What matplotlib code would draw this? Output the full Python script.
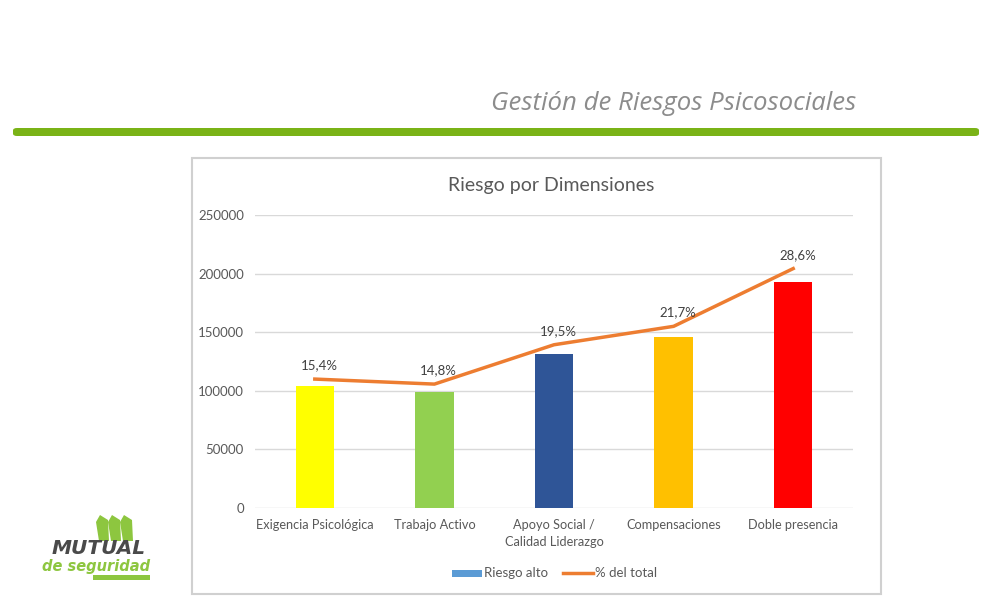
"""
Riesgo por Dimensiones - barras + linea de porcentaje
"""

import matplotlib.pyplot as plt
from matplotlib.patches import Rectangle, FancyBboxPatch, Polygon

# Datos
categorias = ['Exigencia Psicológica', 'Trabajo Activo', 'Apoyo Social /\nCalidad Liderazgo',
              'Compensaciones', 'Doble presencia']
riesgo_alto = [104000, 99000, 131500, 145500, 193000]
pct_total = [0.154, 0.148, 0.195, 0.217, 0.286]
pct_labels = ['15,4%', '14,8%', '19,5%', '21,7%', '28,6%']
bar_colors = ['#FFFF00', '#92D050', '#2F5597', '#FFC000', '#FF0000']
y_ticks = [0, 50000, 100000, 150000, 200000, 250000]

W, H = 992, 610
fig = plt.figure(figsize=(W / 100, H / 100), dpi=100)
fig.patch.set_facecolor('white')


def fx(px):
    return px / W


def fy(py):
    return 1 - py / H


# Encabezado
fig.text(fx(856), fy(104), 'Gestión de Riesgos Psicosociales', ha='right', va='center',
         fontsize=18.5, fontstyle='italic', color='#8C8C8C', family='Open Sans')
fig.patches.append(FancyBboxPatch((fx(13), fy(136)), fx(966), 8 / H,
                                  boxstyle='round,pad=0,rounding_size=0.004',
                                  transform=fig.transFigure, facecolor='#7AB317',
                                  edgecolor='none'))

# Marco del grafico (detras de los ejes)
fig.patches.append(Rectangle((fx(192), fy(594)), fx(689), 436 / H, transform=fig.transFigure,
                             facecolor='white', edgecolor='#D0D0D0', linewidth=1.5,
                             zorder=-1))

fig.text(fx(551), fy(185), 'Riesgo por Dimensiones', ha='center', va='center',
         fontsize=14, color='#595959', family='Lato')

ax = fig.add_axes([fx(255), fy(508), 598 / W, 293 / H])
x = list(range(len(categorias)))
ax.bar(x, riesgo_alto, width=0.32, color=bar_colors, zorder=2)
ax.set_xlim(-0.5, len(categorias) - 0.5)
ax.set_ylim(0, 250000)
ax.set_yticks(y_ticks)
ax.set_yticklabels([str(v) for v in y_ticks], family='Lato', fontsize=9.5, color='#595959')
ax.set_xticks(x)
ax.set_xticklabels(categorias, family='Lato', fontsize=9.2, color='#595959', linespacing=1.5)
ax.tick_params(length=0, pad=8)
ax.grid(axis='y', color='#D9D9D9', linewidth=1, zorder=0)
for s in ax.spines.values():
    s.set_visible(False)
ax.set_facecolor('none')

ax2 = ax.twinx()
ax2.set_ylim(0, 0.35)
ax2.plot(x, pct_total, color='#ED7D31', linewidth=2.5, zorder=3)
for xi, yi, lab in zip(x, pct_total, pct_labels):
    ax2.annotate(lab, (xi, yi), xytext=(3, 10), textcoords='offset points', ha='center',
                 va='center', fontsize=9.5, color='#404040', family='Lato')
ax2.set_yticks([])
for s in ax2.spines.values():
    s.set_visible(False)

# Leyenda
fig.patches.append(Rectangle((fx(452), fy(577)), fx(30), 7 / H, transform=fig.transFigure,
                             facecolor='#5B9BD5', edgecolor='none'))
fig.text(fx(484), fy(573), 'Riesgo alto', ha='left', va='center', fontsize=9.5,
         color='#595959', family='Lato')
fig.lines.append(plt.Line2D([fx(563), fx(593)], [fy(573), fy(573)], transform=fig.transFigure,
                            color='#ED7D31', linewidth=2.5))
fig.text(fx(595), fy(573), '% del total', ha='left', va='center', fontsize=9.5,
         color='#595959', family='Lato')

# Logo (aproximado)
for dx in (0, 12, 24):
    fig.patches.append(Polygon([(fx(99 + dx), fy(541)), (fx(96 + dx), fy(522)),
                                (fx(100 + dx), fy(515)), (fx(108 + dx), fy(520)),
                                (fx(109 + dx), fy(541))],
                               closed=True, transform=fig.transFigure,
                               facecolor='#8DC63F', edgecolor='none'))
fig.text(fx(99), fy(548), 'MUTUAL', ha='center', va='center', fontsize=14.5, fontweight='bold',
         fontstyle='italic', color='#4A4A4A', family='DejaVu Sans')
fig.text(fx(96), fy(566), 'de seguridad', ha='center', va='center', fontsize=10.5,
         fontweight='bold', fontstyle='italic', color='#8DC63F', family='DejaVu Sans')
fig.patches.append(Rectangle((fx(93), fy(580)), fx(57), 5 / H, transform=fig.transFigure,
                             facecolor='#8DC63F', edgecolor='none'))

fig.savefig('out.png', dpi=100, facecolor='white')
